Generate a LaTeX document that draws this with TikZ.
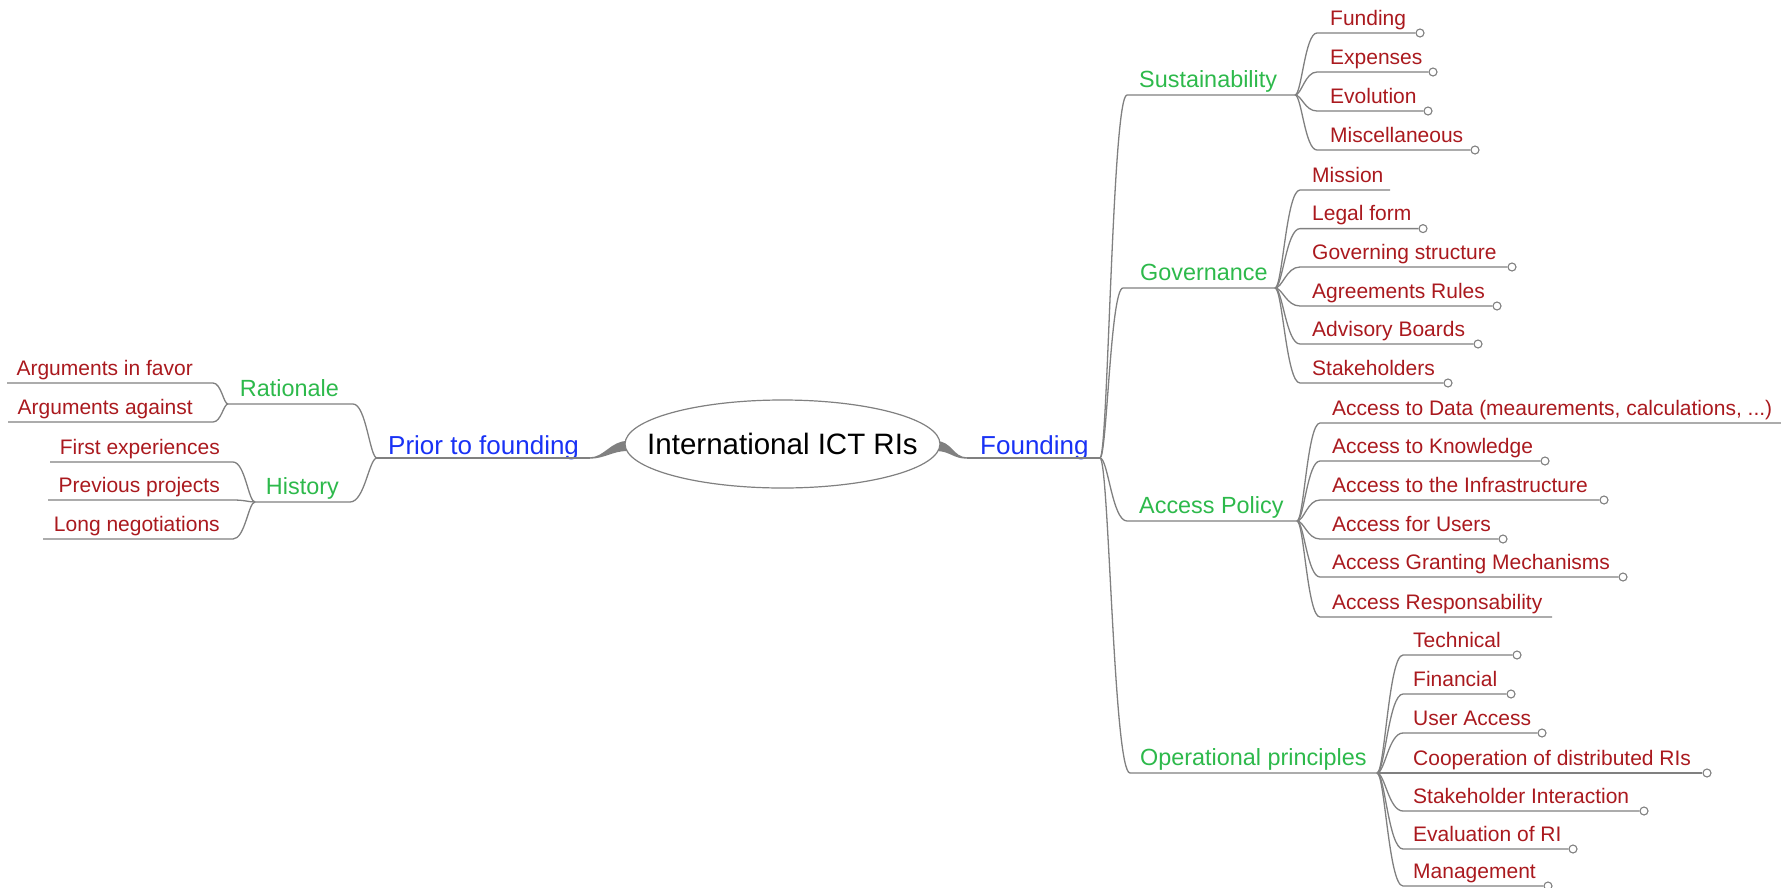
\documentclass[tikz,border=0pt]{standalone}
\usepackage{fontspec}
\setmainfont{Liberation Sans}
\usetikzlibrary{shapes.geometric,calc}
\definecolor{leafred}{RGB}{170,25,30}
\definecolor{subgreen}{RGB}{45,185,75}
\definecolor{topblue}{RGB}{25,50,245}
\definecolor{edgegray}{RGB}{128,128,128}
% right-hand leaf with end circle
\newcommand\leafR[5]{%
  \coordinate (#1s) at (\lsx,#3);
  \node[leaftxt,anchor=base west] (#1) at (\ltx,#3-8) {#4};
  \node[endcirc] (#1e) at (#5,#3) {};
  \draw[conn] (#2) to[bez] (#1s) -- (#1e.west);
}
% right-hand leaf without end circle
\newcommand\leafRn[5]{%
  \coordinate (#1s) at (\lsx,#3);
  \node[leaftxt,anchor=base west] (#1) at (\ltx,#3-8) {#4};
  \coordinate (#1e) at (#5,#3);
  \draw[conn] (#2) to[bez] (#1s) -- (#1e);
}
% left-hand leaf
\newcommand\leafL[5]{%
  \coordinate (#1s) at (\lsx,#3);
  \node[leaftxt,anchor=base east] (#1) at (\ltx,#3-8) {#4};
  \coordinate (#1e) at (#5,#3);
  \draw[conn] (#2) to[bez] (#1s) -- (#1e);
}
\begin{document}
\begin{tikzpicture}[x=1pt,y=-1pt,
  conn/.style={draw=edgegray,line width=1.3pt},
  bez/.style={to path={let \p1=(\tikztostart),\p2=(\tikztotarget) in
     .. controls ({\x1+0.3*(\x2-\x1)},{\y1}) and ({\x1+0.45*(\x2-\x1)},{\y2}) .. (\tikztotarget) \tikztonodes}},
  leaftxt/.style={text=leafred,font=\fontsize{21}{25}\selectfont,inner sep=0pt},
  subtxt/.style={text=subgreen,font=\fontsize{23.4}{28}\selectfont,inner sep=0pt},
  toptxt/.style={text=topblue,font=\fontsize{26}{31}\selectfont,inner sep=0pt},
  endcirc/.style={circle,draw=edgegray,fill=white,line width=1.1pt,minimum size=8pt,inner sep=0pt},
]
\useasboundingbox (0,0) rectangle (1781,887);

% ---------- root ----------
\coordinate (ptaper) at (590,458);
\coordinate (ftaper) at (967,458);
\fill[edgegray] (590,457.3) .. controls (604,457.3) and (611,441) .. (627,441)
   -- (627,451) .. controls (613,451) and (604,458.7) .. (590,458.7) -- cycle;
\fill[edgegray] (967,457.3) .. controls (953,457.3) and (952,441) .. (936,441)
   -- (936,451) .. controls (950,451) and (953,458.7) .. (967,458.7) -- cycle;
\coordinate (rootc) at (782.5,444);
\draw[edgegray,line width=1.2pt,fill=white] (rootc) ellipse [x radius=157.5pt, y radius=44pt];
\node[inner sep=0pt,font=\fontsize{29.5}{35}\selectfont] (root) at (rootc) {International ICT RIs};

% ---------- main branches ----------
\coordinate (PJ) at (377,458);
\coordinate (F) at (1100,458);
\node[toptxt,anchor=base west] (prior) at (388,454) {Prior to founding};
\node[toptxt,anchor=base west] (found) at (980,454) {Founding};
\draw[conn] (PJ) -- (ptaper);
\draw[conn] (ftaper) -- (F);

% ---------- left side ----------
\coordinate (RJ) at (228,404);
\coordinate (rat0) at (353,404);
\node[subtxt,anchor=base east] (rat) at (339,396) {Rationale};
\draw[conn] (PJ) to[bez] (rat0) -- (RJ);
\coordinate (HJ) at (255,502);
\coordinate (his0) at (350,502);
\node[subtxt,anchor=base east] (his) at (339,494) {History};
\draw[conn] (PJ) to[bez] (his0) -- (HJ);

\def\lsx{213}\def\ltx{193}
\leafL{af}{RJ}{383}{Arguments in favor}{7}
\leafL{ag}{RJ}{422}{Arguments against}{8}
\def\lsx{233}\def\ltx{220}
\leafL{fe}{HJ}{462}{First experiences}{50}
\leafL{pp}{HJ}{500}{Previous projects}{48}
\leafL{ln}{HJ}{539}{Long negotiations}{43}

% ---------- right side: second level ----------
\coordinate (sus0) at (1127,95);  \coordinate (SJ) at (1295,95);
\coordinate (gov0) at (1123,288); \coordinate (GJ) at (1275,288);
\coordinate (ap0) at (1127,521);  \coordinate (AJ) at (1297,521);
\coordinate (op0) at (1130,773);  \coordinate (OJ) at (1377,773);
\node[subtxt,anchor=base west] (sus) at (1139,87) {Sustainability};
\node[subtxt,anchor=base west] (gov) at (1140,280) {Governance};
\node[subtxt,anchor=base west] (ap) at (1139,513) {Access Policy};
\node[subtxt,anchor=base west] (op) at (1140,765) {Operational principles};
\draw[conn] (F) to[bez] (sus0) -- (SJ);
\draw[conn] (F) to[bez] (gov0) -- (GJ);
\draw[conn] (F) to[bez] (ap0) -- (AJ);
\draw[conn] (F) to[bez] (op0) -- (OJ);

% ---------- Sustainability ----------
\def\lsx{1317}\def\ltx{1330}
\leafR{s1}{SJ}{33}{Funding}{1420}
\leafR{s2}{SJ}{72}{Expenses}{1433}
\leafR{s3}{SJ}{111}{Evolution}{1428}
\leafR{s4}{SJ}{150}{Miscellaneous}{1475}

% ---------- Governance ----------
\def\lsx{1300}\def\ltx{1312}
\leafRn{g1}{GJ}{190}{Mission}{1390}
\leafR{g2}{GJ}{228.6}{Legal form}{1423}
\leafR{g3}{GJ}{267}{Governing structure}{1512}
\leafR{g4}{GJ}{306}{Agreements Rules}{1497}
\leafR{g5}{GJ}{344}{Advisory Boards}{1478}
\leafR{g6}{GJ}{383}{Stakeholders}{1448}

% ---------- Access Policy ----------
\def\lsx{1320}\def\ltx{1332}
\leafRn{a1}{AJ}{423}{Access to Data (meaurements, calculations, ...)}{1785}
\leafR{a2}{AJ}{461}{Access to Knowledge}{1545}
\leafR{a3}{AJ}{500}{Access to the Infrastructure}{1604}
\leafR{a4}{AJ}{539}{Access for Users}{1503}
\leafR{a5}{AJ}{577}{Access Granting Mechanisms}{1623}
\leafRn{a6}{AJ}{617}{Access Responsability}{1552}

% ---------- Operational principles ----------
\def\lsx{1403}\def\ltx{1413}
\leafR{o1}{OJ}{655}{Technical}{1517}
\leafR{o2}{OJ}{694}{Financial}{1511}
\leafR{o3}{OJ}{733}{User Access}{1542}
\leafR{o4}{OJ}{773}{Cooperation of distributed RIs}{1707}
\leafR{o5}{OJ}{811}{Stakeholder Interaction}{1644}
\leafR{o6}{OJ}{849}{Evaluation of RI}{1573}
\leafR{o7}{OJ}{886}{Management}{1548}
\end{tikzpicture}
\end{document}
